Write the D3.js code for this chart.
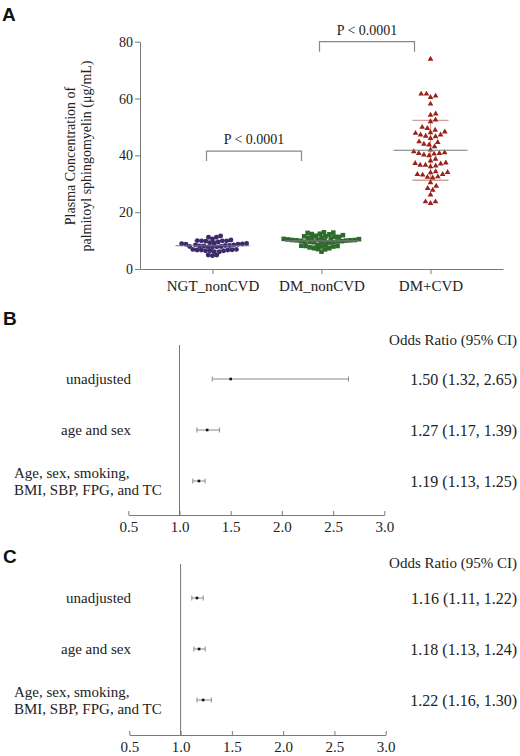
<!DOCTYPE html>
<html>
<head>
<meta charset="utf-8">
<script src="https://cdn.jsdelivr.net/npm/d3@7"></script>
<style>
  body { margin: 0; background: #fff; }
  text { font-family: "Liberation Serif", "Times New Roman", serif; fill: #222; }
  .letter { font-family: "Liberation Sans", Arial, sans-serif; font-weight: bold; fill: #111; }
</style>
</head>
<body>
<div id="chart"></div>
<script>
// ---- panel A data ----
const groups = ["NGT_nonCVD", "DM_nonCVD", "DM+CVD"];
const ngtValues = [11.2, 10.2, 9.9, 9.9, 11.6, 11.2, 9.5, 9.8, 9.9, 10.0, 10.6,
  9.2, 9.0, 8.8, 8.7, 8.5, 8.3, 8.1, 7.9, 7.8, 7.8, 7.9, 8.1, 8.3, 8.5, 8.7, 8.9, 9.1, 7.7,
  6.9, 6.7, 6.7, 6.4, 6.1, 4.9, 4.7, 4.9, 6.1, 6.4, 6.4, 6.7, 6.8, 6.9];
const dmValues = [12.8, 12.3, 11.9, 11.5, 11.3, 11.3, 11.5, 11.7, 12.2, 12.7, 12.9, 12.4,
  10.9, 10.7, 10.5, 10.3, 10.2, 10.1, 10.0, 10.0, 10.1, 10.2, 10.4, 10.6, 10.8, 11.0,
  9.8, 9.6, 9.5, 9.4, 9.3, 9.4, 9.5, 9.7, 9.9,
  8.5, 8.1, 7.9, 7.6, 7.3, 7.0, 6.1, 6.9, 7.3, 7.9, 8.1, 8.2, 8.5];
const cvdValues = [73.9, 61.6, 60.9, 60.4, 61.6, 58.1, 54.6, 54.2, 51.9, 52.5, 49.5, 48.9, 49.9,
  48.0, 47.2, 46.8, 46.0, 46.6, 47.2, 47.8, 48.3,
  44.6, 43.7, 43.1, 44.0, 44.8,
  41.3, 40.7, 40.5, 39.9, 40.2, 40.7, 41.0, 41.9,
  38.1, 37.2, 36.0, 36.6, 36.6, 37.0, 36.3, 37.4, 38.7,
  34.0, 33.3, 33.1, 34.3, 32.1, 32.3, 32.5, 33.3, 33.9,
  30.4, 28.4, 27.8, 29.2, 26.1, 23.7, 23.1, 23.7];
const yTicks = [0, 20, 40, 60, 80];
const compareFrom = [0, 1];
const compareTo = [1, 2];
const compareAt = [41.5, 80];
const compareText = ["P < 0.0001", "P < 0.0001"];

// ---- panels B and C data ----
const models = ["unadjusted", "age and sex", "Age, sex, smoking,|BMI, SBP, FPG, and TC"];
const orB = [1.50, 1.27, 1.19];
const loB = [1.32, 1.17, 1.13];
const hiB = [2.65, 1.39, 1.25];
const orC = [1.16, 1.18, 1.22];
const loC = [1.11, 1.13, 1.16];
const hiC = [1.22, 1.24, 1.30];
const orTicks = [0.5, 1.0, 1.5, 2.0, 2.5, 3.0];

const groupColors = ["#3c2a6c", "#2e6a2b", "#9a211b"];
const sdColors = ["#8c80ad", "#8db08a", "#d49d98"];
const symbols = [d3.symbolCircle, d3.symbolSquare, d3.symbolTriangle];
const symbolSizes = [19, 21, 14];
const swarmGap = [4.3, 4.3, 5.3];
const axisGrey = "#7a7a7a";

const W = 520, H = 756;
const svg = d3.select("#chart").append("svg")
  .attr("width", W).attr("height", H);

// greedy beeswarm: each point goes to the free x offset closest to the centre
function swarm(values, y, gap) {
  const pts = values.map(v => ({v: v, y: y(v)})).sort((a, b) => a.v - b.v);
  const placed = [];
  pts.forEach(p => {
    const near = placed.filter(q => Math.abs(q.y - p.y) < gap);
    const cands = [0];
    near.forEach(q => {
      const dx = Math.sqrt(gap * gap - (q.y - p.y) ** 2);
      cands.push(q.dx + dx, q.dx - dx);
    });
    cands.sort((a, b) => Math.abs(a) - Math.abs(b));
    p.dx = cands.find(c => near.every(q => (q.dx - c) ** 2 + (q.y - p.y) ** 2 >= gap * gap - 1e-6));
    placed.push(p);
  });
  return pts;
}

function styleAxis(g) {
  g.selectAll(".domain").attr("stroke", axisGrey);
  g.selectAll(".tick line").attr("stroke", axisGrey);
  g.selectAll(".tick text")
    .attr("fill", "#222")
    .style("font-family", '"Liberation Serif", "Times New Roman", serif');
}

// ================= panel A =================
svg.append("text").attr("class", "letter")
  .attr("x", 2).attr("y", 21).style("font-size", "19px").text("A");

const xA = d3.scalePoint().domain(groups).range([140, 503]).padding(0.665);
const yA = d3.scaleLinear().domain([0, 80]).range([269, 41.7]);

svg.append("g")
  .attr("transform", "translate(140,0)")
  .call(d3.axisLeft(yA).tickValues(yTicks).tickSize(5).tickSizeOuter(0).tickPadding(2))
  .call(styleAxis)
  .call(g => g.selectAll(".tick text").style("font-size", "14px"));

svg.append("g")
  .attr("transform", "translate(0,269)")
  .call(d3.axisBottom(xA).tickSize(5).tickSizeOuter(0).tickPadding(6))
  .call(styleAxis)
  .call(g => g.selectAll(".tick text").style("font-size", "15px"));

const yTitle = svg.append("text")
  .attr("transform", "translate(0,156) rotate(-90)")
  .attr("text-anchor", "middle")
  .style("font-size", "14px");
yTitle.append("tspan").attr("x", 0).attr("y", 75).text("Plasma Concentration of");
yTitle.append("tspan").attr("x", 0).attr("y", 91).text("palmitoyl sphingomyelin (\u03bcg/mL)");

[ngtValues, dmValues, cvdValues].forEach((vals, i) => {
  const cx = xA(groups[i]);
  const m = d3.mean(vals), sd = d3.deviation(vals);
  const g = svg.append("g");
  // SD whiskers
  g.append("line")
    .attr("x1", cx).attr("x2", cx).attr("y1", yA(m - sd)).attr("y2", yA(m + sd))
    .attr("stroke", sdColors[i]).attr("stroke-width", 1.3);
  [m - sd, m + sd].forEach(v => {
    g.append("line")
      .attr("x1", cx - 18).attr("x2", cx + 18).attr("y1", yA(v)).attr("y2", yA(v))
      .attr("stroke", sdColors[i]).attr("stroke-width", 1.3);
  });
  // points
  g.selectAll("path.pt")
    .data(swarm(vals, yA, swarmGap[i]))
    .join("path")
    .attr("class", "pt")
    .attr("transform", d => `translate(${cx + d.dx},${d.y})`)
    .attr("d", d3.symbol().type(symbols[i]).size(symbolSizes[i]))
    .attr("fill", groupColors[i]);
  // mean
  g.append("line")
    .attr("x1", cx - 37).attr("x2", cx + 37).attr("y1", yA(m)).attr("y2", yA(m))
    .attr("stroke", "#777").attr("stroke-width", 1.2);
});

// significance brackets
const bracketInset = [[-6, -20], [-2, -16]];
compareText.forEach((t, i) => {
  const x1 = xA(groups[compareFrom[i]]) + bracketInset[i][0];
  const x2 = xA(groups[compareTo[i]]) + bracketInset[i][1];
  const yT = yA(compareAt[i]), yB = yT + 10;
  svg.append("path")
    .attr("d", `M${x1},${yB}V${yT}H${x2}V${yB}`)
    .attr("fill", "none").attr("stroke", "#888").attr("stroke-width", 1.2);
  svg.append("text")
    .attr("x", (x1 + x2) / 2).attr("y", yT - 7)
    .attr("text-anchor", "middle").style("font-size", "14px").text(t);
});

// ================= panels B and C =================
const fmt = d3.format(".2f");

function forest(letter, lay, or, lo, hi) {
  svg.append("text").attr("class", "letter")
    .attr("x", 3).attr("y", lay.letterY).style("font-size", "19px").text(letter);

  svg.append("text")
    .attr("x", 517).attr("y", lay.headerY)
    .attr("text-anchor", "end").style("font-size", "15px")
    .text("Odds Ratio (95% CI)");

  const x = d3.scaleLinear().domain([0.5, 3]).range(lay.xRange);
  const y = d3.scalePoint().domain(models).range(lay.rows);

  svg.append("g")
    .attr("transform", `translate(0,${lay.axisY})`)
    .call(d3.axisBottom(x).tickValues(orTicks).tickFormat(d3.format(".1f"))
      .tickSize(-4).tickSizeOuter(0).tickPadding(6))
    .call(styleAxis)
    .call(g => g.selectAll(".tick text").style("font-size", "15px"));

  svg.append("line")
    .attr("x1", x(1)).attr("x2", x(1)).attr("y1", lay.lineTop).attr("y2", lay.axisY)
    .attr("stroke", "#777").attr("stroke-width", 1);

  models.forEach((name, i) => {
    const cy = y(name);
    const lines = name.split("|");
    if (lines.length === 1) {
      svg.append("text")
        .attr("x", 131).attr("y", cy).attr("dy", "0.35em")
        .attr("text-anchor", "end").style("font-size", "15px").text(name);
    } else {
      lines.forEach((l, k) => {
        svg.append("text")
          .attr("x", 14).attr("y", cy + (k - 0.5) * 17).attr("dy", "0.35em")
          .style("font-size", "15px").text(l);
      });
    }
    svg.append("line")
      .attr("x1", x(lo[i])).attr("x2", x(hi[i])).attr("y1", cy).attr("y2", cy)
      .attr("stroke", "#8a8a8a").attr("stroke-width", 1);
    [lo[i], hi[i]].forEach(v => {
      svg.append("line")
        .attr("x1", x(v)).attr("x2", x(v)).attr("y1", cy - 2.5).attr("y2", cy + 2.5)
        .attr("stroke", "#8a8a8a").attr("stroke-width", 1);
    });
    svg.append("rect")
      .attr("x", x(or[i]) - 1.3).attr("y", cy - 1.3).attr("width", 2.6).attr("height", 2.6)
      .attr("fill", "#111");
    svg.append("text")
      .attr("x", 517).attr("y", cy).attr("dy", "0.35em")
      .attr("text-anchor", "end").style("font-size", "16px")
      .text(`${fmt(or[i])} (${fmt(lo[i])}, ${fmt(hi[i])})`);
  });
}

forest("B", {letterY: 325, headerY: 345, lineTop: 345, rows: [379, 481], axisY: 515, xRange: [128.3, 384.3]},
  orB, loB, hiB);
forest("C", {letterY: 563, headerY: 568, lineTop: 564, rows: [598, 700], axisY: 735, xRange: [129.3, 385.7]},
  orC, loC, hiC);
</script>
</body>
</html>
